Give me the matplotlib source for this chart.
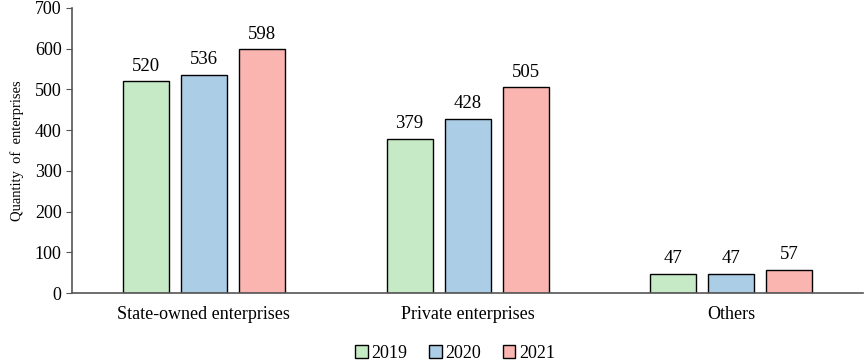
import numpy as np
import matplotlib
matplotlib.use('Agg')
import matplotlib.pyplot as plt

categories = ['State-owned enterprises', 'Private enterprises', 'Others']
years = ['2019', '2020', '2021']
vals_2019 = [520, 379, 47]
vals_2020 = [536, 428, 47]
vals_2021 = [598, 505, 57]
colors = ['#c6eac6', '#abcde5', '#fbb5b0']

plt.rcParams['font.family'] = ['Liberation Serif', 'DejaVu Serif']

fig = plt.figure(figsize=(8.65, 3.62), dpi=100)
ax = fig.add_axes([0.0832, 0.1906, 0.9148, 0.7874])

x = np.arange(len(categories))
w = 0.175
step = 0.22
series = [vals_2019, vals_2020, vals_2021]
for i, (vals, yr, c) in enumerate(zip(series, years, colors)):
    bars = ax.bar(x + (i - 1) * step, vals, w, color=c, edgecolor='black',
                  linewidth=1.0, label=yr)
    for b, v in zip(bars, vals):
        ax.text(b.get_x() + b.get_width() / 2, v + 16, str(v),
                ha='center', va='bottom', fontsize=13.5)

ax.set_xlim(-0.5, 2.5)
ax.set_ylim(0, 700)
ax.set_yticks(range(0, 701, 100))
ax.set_xticks(x)
ax.set_xticklabels(categories, fontsize=13)
ax.tick_params(axis='x', length=0, pad=9)
ax.tick_params(axis='y', labelsize=13, length=4, color='#555555')
ax.set_ylabel('Quantity  of  enterprises', fontsize=10.5, labelpad=8)

for s in ['top', 'right']:
    ax.spines[s].set_visible(False)
for s in ['left', 'bottom']:
    ax.spines[s].set_color('#555555')
    ax.spines[s].set_linewidth(1.2)

ax.legend(loc='lower center', bbox_to_anchor=(0.484, -0.285), ncol=3, frameon=False,
          fontsize=13, handlelength=0.7, handleheight=0.7, handletextpad=0.2,
          columnspacing=1.2, borderpad=0.2)

fig.savefig('out.png', dpi=100)
